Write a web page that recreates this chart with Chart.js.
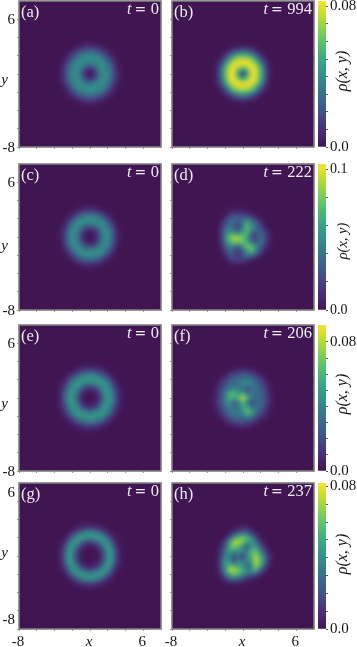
<!DOCTYPE html>
<html>
<head>
<meta charset="utf-8">
<script src="https://cdn.jsdelivr.net/npm/chart.js@4"></script>
<style>
  body { margin: 0; background: #fff; }
  #page { position: relative; width: 357px; height: 647px; overflow: hidden; }
  canvas { position: absolute; }
</style>
</head>
<body>
<div id="page"></div>
<script>
const gridX = [-4, -3.5, -3, -2.5, -2, -1.5, -1, -0.5, 0, 0.5, 1, 1.5, 2, 2.5, 3, 3.5, 4];
const gridY = [4, 3.5, 3, 2.5, 2, 1.5, 1, 0.5, 0, -0.5, -1, -1.5, -2, -2.5, -3, -3.5, -4];
const tickValues = [-8, -6, -4, -2, 0, 2, 4, 6];
const xTickLabels = ['-8', '', '', '', 'x', '', '', '6'];
const yTickLabels = ['-8', '', '', '', '', '', '', '6'];
const panelLetters = ['(a)', '(b)', '(c)', '(d)', '(e)', '(f)', '(g)', '(h)'];
const panelTimes = ['0', '994', '0', '222', '0', '206', '0', '237'];
const colorMax = [0.083, 0.104, 0.0905, 0.082];
const cbarTicks = [
  [0, 0.01, 0.02, 0.03, 0.04, 0.05, 0.06, 0.07, 0.08],
  [0, 0.02, 0.04, 0.06, 0.08, 0.1],
  [0, 0.01, 0.02, 0.03, 0.04, 0.05, 0.06, 0.07, 0.08],
  [0, 0.01, 0.02, 0.03, 0.04, 0.05, 0.06, 0.07, 0.08]
];
const cbarTopLabels = ['0.08', '0.1', '0.08', '0.08'];

// density, in units of 0.001, top row first
const densityA = [
  [0,0,0,0,0,0,0,0,0,0,0,0,0,0,0,0,0],
  [0,0,0,0,0,0,1,2,2,2,1,0,0,0,0,0,0],
  [0,0,0,0,1,3,6,9,10,9,6,3,1,0,0,0,0],
  [0,0,0,2,5,13,20,25,26,25,20,13,5,2,0,0,0],
  [0,0,1,5,15,26,34,38,39,38,34,26,15,5,1,0,0],
  [0,0,3,13,26,37,41,41,41,41,41,37,26,13,3,0,0],
  [0,1,6,20,34,41,40,34,30,34,40,41,34,20,6,1,0],
  [0,2,9,25,38,41,34,16,8,16,34,41,38,25,9,2,0],
  [0,2,10,26,39,41,30,8,0,8,30,41,39,26,10,2,0],
  [0,2,9,25,38,41,34,16,8,16,34,41,38,25,9,2,0],
  [0,1,6,20,34,41,40,34,30,34,40,41,34,20,6,1,0],
  [0,0,3,13,26,37,41,41,41,41,41,37,26,13,3,0,0],
  [0,0,1,5,15,26,34,38,39,38,34,26,15,5,1,0,0],
  [0,0,0,2,5,13,20,25,26,25,20,13,5,2,0,0,0],
  [0,0,0,0,1,3,6,9,10,9,6,3,1,0,0,0,0],
  [0,0,0,0,0,0,1,2,2,2,1,0,0,0,0,0,0],
  [0,0,0,0,0,0,0,0,0,0,0,0,0,0,0,0,0]
];
const densityB = [
  [0,0,0,0,0,0,0,0,0,0,0,0,0,0,0,0,0],
  [0,0,0,0,0,0,0,0,1,0,0,0,0,0,0,0,0],
  [0,0,0,0,0,1,3,4,5,4,3,1,0,0,0,0,0],
  [0,0,0,0,2,8,18,25,28,25,18,8,2,0,0,0,0],
  [0,0,0,2,12,28,44,55,58,55,44,28,12,2,0,0,0],
  [0,0,1,8,28,50,70,78,80,78,70,50,28,8,1,0,0],
  [0,0,3,18,44,70,82,82,80,82,82,70,44,18,3,0,0],
  [0,0,4,25,55,78,82,62,46,62,82,78,55,25,4,0,0],
  [0,1,5,28,58,80,80,46,12,46,80,80,58,28,5,1,0],
  [0,0,4,25,55,78,82,62,46,62,82,78,55,25,4,0,0],
  [0,0,3,18,44,70,82,82,80,82,82,70,44,18,3,0,0],
  [0,0,1,8,28,50,70,78,80,78,70,50,28,8,1,0,0],
  [0,0,0,2,12,28,44,55,58,55,44,28,12,2,0,0,0],
  [0,0,0,0,2,8,18,25,28,25,18,8,2,0,0,0,0],
  [0,0,0,0,0,1,3,4,5,4,3,1,0,0,0,0,0],
  [0,0,0,0,0,0,0,0,1,0,0,0,0,0,0,0,0],
  [0,0,0,0,0,0,0,0,0,0,0,0,0,0,0,0,0]
];
const densityC = [
  [0,0,0,0,0,0,0,0,0,0,0,0,0,0,0,0,0],
  [0,0,0,0,0,0,1,2,2,2,1,0,0,0,0,0,0],
  [0,0,0,0,1,3,7,11,12,11,7,3,1,0,0,0,0],
  [0,0,0,2,6,16,27,34,36,34,27,16,6,2,0,0,0],
  [0,0,1,6,20,36,47,52,52,52,47,36,20,6,1,0,0],
  [0,0,3,16,36,51,51,48,46,48,51,51,36,16,3,0,0],
  [0,1,7,27,47,51,42,26,20,26,42,51,47,27,7,1,0],
  [0,2,11,34,52,48,26,7,3,7,26,48,52,34,11,2,0],
  [0,2,12,36,52,46,20,3,0,3,20,46,52,36,12,2,0],
  [0,2,11,34,52,48,26,7,3,7,26,48,52,34,11,2,0],
  [0,1,7,27,47,51,42,26,20,26,42,51,47,27,7,1,0],
  [0,0,3,16,36,51,51,48,46,48,51,51,36,16,3,0,0],
  [0,0,1,6,20,36,47,52,52,52,47,36,20,6,1,0,0],
  [0,0,0,2,6,16,27,34,36,34,27,16,6,2,0,0,0],
  [0,0,0,0,1,3,7,11,12,11,7,3,1,0,0,0,0],
  [0,0,0,0,0,0,1,2,2,2,1,0,0,0,0,0,0],
  [0,0,0,0,0,0,0,0,0,0,0,0,0,0,0,0,0]
];
const densityD = [
  [0,0,0,0,0,0,0,0,0,0,0,0,0,0,0,0,0],
  [0,0,0,0,0,0,1,1,1,0,0,0,0,0,0,0,0],
  [0,0,0,0,0,3,5,4,3,1,0,0,0,0,0,0,0],
  [0,0,0,0,3,12,18,18,16,12,6,2,0,0,0,0,0],
  [0,0,0,2,12,28,34,34,34,40,28,14,4,0,0,0,0],
  [0,0,0,6,24,40,34,24,44,66,46,32,16,3,0,0,0],
  [0,0,0,10,32,46,30,18,46,74,54,38,26,8,1,0,0],
  [0,0,0,14,40,54,50,42,62,70,36,26,36,20,6,1,0],
  [0,0,0,14,44,76,88,84,78,58,22,22,38,24,8,1,0],
  [0,0,0,11,40,70,84,84,78,64,34,26,38,24,6,1,0],
  [0,0,0,6,30,50,44,36,56,80,70,48,34,14,3,0,0],
  [0,0,0,3,18,38,26,14,34,62,76,48,24,6,1,0,0],
  [0,0,0,1,8,28,24,14,28,44,40,24,8,1,0,0,0],
  [0,0,0,0,2,12,20,20,20,16,8,2,0,0,0,0,0],
  [0,0,0,0,0,2,4,4,3,1,0,0,0,0,0,0,0],
  [0,0,0,0,0,0,0,0,0,0,0,0,0,0,0,0,0],
  [0,0,0,0,0,0,0,0,0,0,0,0,0,0,0,0,0]
];
const densityE = [
  [0,0,0,0,0,0,0,0,0,0,0,0,0,0,0,0,0],
  [0,0,0,0,0,1,3,4,4,4,3,1,0,0,0,0,0],
  [0,0,0,1,3,7,13,17,19,17,13,7,3,1,0,0,0],
  [0,0,1,4,12,24,34,40,42,40,34,24,12,4,1,0,0],
  [0,0,3,12,28,42,47,49,48,49,47,42,28,12,3,0,0],
  [0,1,7,24,42,49,45,38,34,38,45,49,42,24,7,1,0],
  [0,3,13,34,47,45,28,13,8,13,28,45,47,34,13,3,0],
  [0,4,17,40,49,38,13,3,1,3,13,38,49,40,17,4,0],
  [0,4,19,42,48,34,8,1,0,1,8,34,48,42,19,4,0],
  [0,4,17,40,49,38,13,3,1,3,13,38,49,40,17,4,0],
  [0,3,13,34,47,45,28,13,8,13,28,45,47,34,13,3,0],
  [0,1,7,24,42,49,45,38,34,38,45,49,42,24,7,1,0],
  [0,0,3,12,28,42,47,49,48,49,47,42,28,12,3,0,0],
  [0,0,1,4,12,24,34,40,42,40,34,24,12,4,1,0,0],
  [0,0,0,1,3,7,13,17,19,17,13,7,3,1,0,0,0],
  [0,0,0,0,0,1,3,4,4,4,3,1,0,0,0,0,0],
  [0,0,0,0,0,0,0,0,0,0,0,0,0,0,0,0,0]
];
const densityF = [
  [0,0,0,0,0,0,0,0,0,0,0,0,0,0,0,0,0],
  [0,0,0,0,0,0,1,1,1,1,0,0,0,0,0,0,0],
  [0,0,0,0,1,3,6,10,12,10,6,3,1,0,0,0,0],
  [0,0,0,1,5,12,20,24,26,26,22,14,6,1,0,0,0],
  [0,0,1,6,14,24,30,32,36,38,34,26,16,7,1,0,0],
  [0,0,3,12,22,30,34,34,44,44,38,30,22,12,3,0,0],
  [0,1,5,16,28,36,42,38,34,20,36,34,28,18,6,1,0],
  [0,1,7,20,34,58,62,50,52,34,34,32,28,20,7,1,0],
  [0,2,8,22,38,60,56,62,82,60,38,32,30,22,8,1,0],
  [0,2,8,22,36,48,24,38,60,40,20,30,30,22,8,1,0],
  [0,1,6,18,30,42,30,36,54,56,30,36,28,18,6,1,0],
  [0,1,4,13,24,34,40,38,44,66,54,36,22,12,3,0,0],
  [0,0,1,6,16,26,32,34,34,44,40,24,14,6,1,0,0],
  [0,0,0,1,6,14,22,26,26,24,18,11,4,1,0,0,0],
  [0,0,0,0,1,3,7,10,11,8,5,2,1,0,0,0,0],
  [0,0,0,0,0,0,1,1,1,1,0,0,0,0,0,0,0],
  [0,0,0,0,0,0,0,0,0,0,0,0,0,0,0,0,0]
];
const densityG = [
  [0,0,0,0,0,0,0,0,0,0,0,0,0,0,0,0,0],
  [0,0,0,0,0,1,2,3,3,3,2,1,0,0,0,0,0],
  [0,0,0,0,2,5,10,14,16,14,10,5,2,0,0,0,0],
  [0,0,0,3,9,22,34,41,42,41,34,22,9,3,0,0,0],
  [0,0,2,9,27,42,45,42,40,42,45,42,27,9,2,0,0],
  [0,1,5,22,42,43,31,19,15,19,31,43,42,22,5,1,0],
  [0,2,10,34,45,31,11,4,2,4,11,31,45,34,10,2,0],
  [0,3,14,41,42,19,4,1,0,1,4,19,42,41,14,3,0],
  [0,3,16,42,40,15,2,0,0,0,2,15,40,42,16,3,0],
  [0,3,14,41,42,19,4,1,0,1,4,19,42,41,14,3,0],
  [0,2,10,34,45,31,11,4,2,4,11,31,45,34,10,2,0],
  [0,1,5,22,42,43,31,19,15,19,31,43,42,22,5,1,0],
  [0,0,2,9,27,42,45,42,40,42,45,42,27,9,2,0,0],
  [0,0,0,3,9,22,34,41,42,41,34,22,9,3,0,0,0],
  [0,0,0,0,2,5,10,14,16,14,10,5,2,0,0,0,0],
  [0,0,0,0,0,1,2,3,3,3,2,1,0,0,0,0,0],
  [0,0,0,0,0,0,0,0,0,0,0,0,0,0,0,0,0]
];
const densityH = [
  [0,0,0,0,0,0,0,0,0,0,0,0,0,0,0,0,0],
  [0,0,0,0,0,0,0,1,1,1,0,0,0,0,0,0,0],
  [0,0,0,0,0,0,2,6,10,8,3,0,0,0,0,0,0],
  [0,0,0,0,0,4,15,25,30,27,16,5,0,0,0,0,0],
  [0,0,0,0,6,22,44,58,62,54,36,16,3,0,0,0,0],
  [0,0,0,3,16,44,70,74,62,46,46,32,12,2,0,0,0],
  [0,0,0,6,22,52,66,54,40,20,44,46,24,8,1,0,0],
  [0,0,1,10,30,48,40,44,36,38,56,60,38,18,4,0,0],
  [0,0,1,14,36,38,20,32,16,38,56,70,50,28,8,1,0],
  [0,0,1,16,42,40,20,36,28,40,50,74,58,32,8,1,0],
  [0,0,1,16,46,54,44,46,44,22,42,70,52,24,6,1,0],
  [0,0,2,14,40,70,72,62,50,36,46,54,30,10,1,0,0],
  [0,0,0,8,32,50,60,56,40,34,28,22,8,1,0,0,0],
  [0,0,0,1,12,26,32,28,18,10,4,1,0,0,0,0,0],
  [0,0,0,0,1,3,5,4,2,0,0,0,0,0,0,0,0],
  [0,0,0,0,0,0,0,0,0,0,0,0,0,0,0,0,0],
  [0,0,0,0,0,0,0,0,0,0,0,0,0,0,0,0,0]
];
const densities = [densityA, densityB, densityC, densityD, densityE, densityF, densityG, densityH];

// layout of the figure
const rowTops = [1, 164, 325, 483];
const panelHeight = 146;
const colLefts = [0, 153];
const yLabelCentres = [80, 246, 404, 553];
const yLabelShift = [1, 1, 1, -8.5];
const frameColor = '#7f7f7f';
const tickColor = '#9a9a9a';
const textColor = '#141414';
const serif = '"Liberation Serif", serif';

// viridis as it looks in the picture, a little washed out
const viridis = [
  [64, 21, 82], [75, 42, 118], [70, 70, 132], [62, 96, 138], [54, 120, 140], [52, 146, 138],
  [58, 168, 130], [85, 190, 112], [130, 207, 85], [190, 220, 50], [243, 228, 50]
];

function colorAt(t) {
  const p = Math.min(Math.max(t, 0), 1) * (viridis.length - 1);
  const i = Math.min(Math.floor(p), viridis.length - 2);
  const f = p - i;
  const c = viridis[i].map((v, n) => Math.round(v + (viridis[i + 1][n] - v) * f));
  return `rgb(${c[0]},${c[1]},${c[2]})`;
}

const heatmapLook = {
  id: 'heatmapLook',
  beforeDatasetsDraw(chart) {
    const { ctx, chartArea: a } = chart;
    ctx.save();
    ctx.fillStyle = colorAt(0);
    ctx.fillRect(a.left, a.top, a.width, a.height);
    ctx.restore();
  },
  // soften the cells, the original is an interpolated image
  afterDatasetsDraw(chart) {
    const { ctx, chartArea: a, canvas } = chart;
    ctx.save();
    ctx.beginPath();
    ctx.rect(a.left, a.top, a.width, a.height);
    ctx.clip();
    ctx.filter = 'blur(2px)';
    ctx.drawImage(canvas, a.left, a.top, a.width, a.height, a.left, a.top, a.width, a.height);
    ctx.restore();
  },
  afterDraw(chart, args, opts) {
    const { ctx, chartArea: a } = chart;
    ctx.save();
    ctx.strokeStyle = frameColor;
    ctx.lineWidth = 1.6;
    ctx.strokeRect(a.left, a.top, a.width, a.height);

    ctx.fillStyle = '#ececf0';
    ctx.textBaseline = 'alphabetic';
    ctx.textAlign = 'left';
    ctx.font = '16.5px ' + serif;
    ctx.fillText(opts.letter, a.left + 2, a.top + 16);

    ctx.textAlign = 'right';
    let x = a.right - 2;
    ctx.fillText(opts.time, x, a.top + 13);
    x -= ctx.measureText(opts.time).width + 4.5;
    ctx.font = '14px "DejaVu Serif", serif';
    ctx.fillText('=', x, a.top + 13);
    x -= ctx.measureText('=').width + 3;
    ctx.font = 'italic 16.5px ' + serif;
    ctx.fillText('t', x, a.top + 13);

    if (opts.yLabelY !== null) {
      ctx.fillStyle = textColor;
      ctx.textAlign = 'center';
      ctx.textBaseline = 'middle';
      ctx.font = 'italic 15px ' + serif;
      ctx.fillText('y', 4.5, opts.yLabelY - chart.canvas.offsetTop);
    }
    ctx.restore();
  }
};

const cbarTitle = {
  id: 'cbarTitle',
  afterDraw(chart, args, opts) {
    const { ctx } = chart;
    ctx.save();
    ctx.translate(25, opts.centre - chart.canvas.offsetTop);
    ctx.rotate(-Math.PI / 2);
    ctx.fillStyle = textColor;
    ctx.textAlign = 'center';
    ctx.textBaseline = 'middle';
    ctx.font = `italic ${opts.size}px ${serif}`;
    ctx.fillText('ρ(x, y)', 0, 0);
    ctx.restore();
  }
};

function addCanvas(left, top, width, height) {
  const c = document.createElement('canvas');
  c.width = width;
  c.height = height;
  c.style.left = left + 'px';
  c.style.top = top + 'px';
  c.style.width = width + 'px';
  c.style.height = height + 'px';
  document.getElementById('page').appendChild(c);
  return c;
}

// the axis boxes are fixed, labels must not push the plot area in
function fixBox(s, width, height) {
  if (width) s.width = width;
  if (height) s.height = height;
  s.paddingLeft = s.paddingRight = s.paddingTop = s.paddingBottom = 0;
}

function panelAxis(labels, showLabels, shift, size) {
  return {
    type: 'linear',
    min: -8,
    max: 8,
    afterBuildTicks: s => { s.ticks = tickValues.map(v => ({ value: v })); },
    afterFit: size,
    border: { display: false },
    grid: { drawOnChartArea: false, drawTicks: true, tickLength: 2, color: tickColor, lineWidth: 1 },
    ticks: {
      autoSkip: false,
      maxRotation: 0,
      minRotation: 0,
      padding: 2,
      labelOffset: shift,
      color: textColor,
      font: c => ({ family: serif, size: 15, style: c.tick && c.tick.value === 0 ? 'italic' : 'normal' }),
      callback: (v, i) => (showLabels ? labels[i] : '')
    }
  };
}

densities.forEach((density, k) => {
  const col = k % 2;
  const row = Math.floor(k / 2);
  const points = density.flatMap((line, r) => line.map((rho, c) => ({ x: gridX[c], y: gridY[r], rho: rho / 1000 })));
  const canvas = addCanvas(colLefts[col], rowTops[row] - 14, 162, 14 + panelHeight + 18);

  new Chart(canvas, {
    type: 'scatter',
    data: {
      datasets: [{
        data: points,
        pointStyle: 'rect',
        pointRadius: 3.4,
        pointBorderWidth: 0,
        pointBackgroundColor: c => colorAt(c.raw.rho / colorMax[row])
      }]
    },
    options: {
      responsive: false,
      animation: false,
      events: [],
      layout: { autoPadding: false, padding: { top: 14, right: 1 } },
      plugins: {
        legend: { display: false },
        tooltip: { enabled: false },
        heatmapLook: {
          letter: panelLetters[k],
          time: panelTimes[k],
          yLabelY: col === 0 ? yLabelCentres[row] : null
        }
      },
      scales: {
        x: panelAxis(xTickLabels, row === 3, -1, s => fixBox(s, 0, 18)),
        y: panelAxis(yTickLabels, col === 0, yLabelShift[row], s => fixBox(s, 19, 0))
      }
    },
    plugins: [heatmapLook]
  });
});

// one colour bar per row
rowTops.forEach((top, row) => {
  const canvas = addCanvas(318, top - 10, 39, 10 + panelHeight + 12);
  new Chart(canvas, {
    type: 'bar',
    data: {
      labels: ['rho'],
      datasets: [{
        data: [[0, colorMax[row]]],
        categoryPercentage: 1,
        barPercentage: 1,
        borderWidth: 0,
        backgroundColor: c => {
          const area = c.chart.chartArea;
          if (!area) return colorAt(0.5);
          const g = c.chart.ctx.createLinearGradient(0, area.bottom, 0, area.top);
          for (let i = 0; i <= 20; i++) g.addColorStop(i / 20, colorAt(i / 20));
          return g;
        }
      }]
    },
    options: {
      responsive: false,
      animation: false,
      events: [],
      layout: { padding: { top: 10, bottom: 12 } },
      plugins: {
        legend: { display: false },
        tooltip: { enabled: false },
        cbarTitle: { centre: [71, 241, 394, 554][row], size: row === 1 ? 14.5 : 16 }
      },
      scales: {
        x: { display: false },
        y: {
          position: 'right',
          min: 0,
          max: colorMax[row],
          afterBuildTicks: s => { s.ticks = cbarTicks[row].map(v => ({ value: v })); },
          afterFit: s => fixBox(s, 31, 0),
          border: { display: false },
          grid: { drawOnChartArea: false, drawTicks: true, tickLength: 2, color: '#555', lineWidth: 1 },
          ticks: {
            autoSkip: false,
            padding: 2,
            color: textColor,
            font: { family: serif, size: row === 1 ? 14 : 15 },
            callback: (v, i, all) => (i === 0 ? '0.0' : i === all.length - 1 ? cbarTopLabels[row] : '')
          }
        }
      }
    },
    plugins: [cbarTitle]
  });
});
</script>
</body>
</html>
